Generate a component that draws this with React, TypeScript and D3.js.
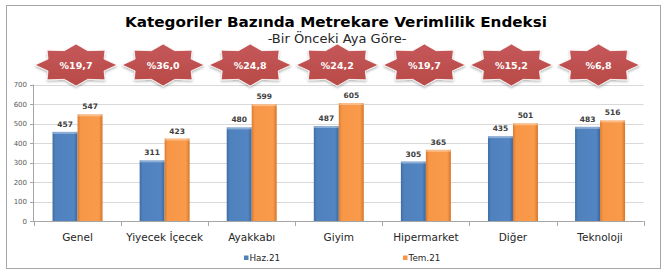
import React from "react";
import * as d3 from "d3";

const categories = ["Genel", "Yiyecek İçecek", "Ayakkabı", "Giyim", "Hipermarket", "Diğer", "Teknoloji"];
const seriesNames = ["Haz.21", "Tem.21"];
const haz21 = [457, 311, 480, 487, 305, 435, 483];
const tem21 = [547, 423, 599, 605, 365, 501, 516];
const changeLabels = ["%19,7", "%36,0", "%24,8", "%24,2", "%19,7", "%15,2", "%6,8"];
const yTicks = [0, 100, 200, 300, 400, 500, 600, 700];
const title = "Kategoriler Bazında Metrekare Verimlilik Endeksi";
const subtitle = "-Bir Önceki Aya Göre-";

const W = 671;
const H = 273;
const FONT = "'DejaVu Sans', Verdana, sans-serif";

function starPath(cx: number, cy: number, rx: number, ry: number, k: number) {
  const pts: [number, number][] = [];
  for (let i = 0; i < 16; i++) {
    const a = (i * Math.PI) / 8;
    const r = i % 2 === 0 ? 1 : k;
    pts.push([cx + rx * r * Math.cos(a), cy - ry * r * Math.sin(a)]);
  }
  return d3.line()(pts) + "Z";
}

export default function App() {
  const left = 34;
  const right = 643.6;
  const top = 84.5;
  const bottom = 221;

  const x = d3.scaleBand<string>().domain(categories).range([left, right]).paddingInner(0).paddingOuter(0);
  const inner = d3.scaleBand<string>().domain(seriesNames).range([0, 50]);
  const y = d3.scaleLinear().domain([0, 700]).range([bottom, top]);
  const colors = ["#4F81BD", "#F79646"];
  const series = [haz21, tem21];

  const barOffset = (x.bandwidth() - 50) / 2;

  return (
    <svg
      width={W}
      height={H}
      style={{ position: "absolute", left: 0, top: 0, background: "#fff" }}
      xmlns="http://www.w3.org/2000/svg"
    >
      <defs>
        <linearGradient id="g0" x1="0" x2="1" y1="0" y2="0">
          <stop offset="0" stopColor="#3E6DA6" />
          <stop offset="0.12" stopColor="#4F81BD" />
          <stop offset="0.85" stopColor="#5285C2" />
          <stop offset="1" stopColor="#3B679C" />
        </linearGradient>
        <linearGradient id="g1" x1="0" x2="1" y1="0" y2="0">
          <stop offset="0" stopColor="#D97B30" />
          <stop offset="0.12" stopColor="#F79646" />
          <stop offset="0.85" stopColor="#F99B4B" />
          <stop offset="1" stopColor="#D4772C" />
        </linearGradient>
        <linearGradient id="star" x1="0" x2="0" y1="0" y2="1">
          <stop offset="0" stopColor="#C5575A" />
          <stop offset="1" stopColor="#B84A47" />
        </linearGradient>
        <filter id="sh" x="-20%" y="-20%" width="140%" height="160%">
          <feDropShadow dx="0" dy="1.5" stdDeviation="1.2" floodColor="#000" floodOpacity="0.3" />
        </filter>
      </defs>
      <rect x={6.5} y={5.5} width={654} height={263} fill="#fff" stroke="#A6A6A6" strokeWidth={1} />

      <text x={336} y={27} textAnchor="middle" fontFamily={FONT} fontWeight="bold" fontSize={14.5} fill="#000"
        textLength={422} lengthAdjust="spacingAndGlyphs">
        {title}
      </text>
      <text x={337} y={43} textAnchor="middle" fontFamily={FONT} fontSize={13} fill="#262626">
        {subtitle}
      </text>

      {/* gridlines */}
      {yTicks.map((t) => (
        <line key={"g" + t} x1={left} x2={right} y1={Math.round(y(t)) + 0.5} y2={Math.round(y(t)) + 0.5}
          stroke={t === 0 ? "#A6A6A6" : "#D9D9D9"} strokeWidth={1} />
      ))}
      {/* y axis */}
      <line x1={left - 0.5} x2={left - 0.5} y1={y(700)} y2={y(0)} stroke="#A6A6A6" />
      {yTicks.map((t) => (
        <g key={"yt" + t}>
          <line x1={left - 4} x2={left} y1={Math.round(y(t)) + 0.5} y2={Math.round(y(t)) + 0.5} stroke="#A6A6A6" />
          <text x={left - 7} y={y(t) + 2.5} textAnchor="end" fontFamily={FONT} fontSize={7} fill="#595959">
            {t}
          </text>
        </g>
      ))}
      {/* x ticks */}
      {d3.range(categories.length + 1).map((i) => {
        const xx = Math.round(left + i * x.step()) + 0.5;
        return <line key={"xt" + i} x1={xx} x2={xx} y1={bottom} y2={bottom + 5} stroke="#A6A6A6" />;
      })}

      {/* stars */}
      {categories.map((c, i) => {
        const cx = (x(c) as number) + x.bandwidth() / 2 - 1.5;
        const cy = 65;
        return (
          <g key={"s" + c}>
            <path d={starPath(cx, cy, 41, 21, 0.74)} fill="url(#star)" stroke="#fff" strokeWidth={0.8} filter="url(#sh)" />
            <text x={cx} y={cy + 3.5} textAnchor="middle" fontFamily={FONT} fontWeight="bold" fontSize={9.5} fill="#fff">
              {changeLabels[i]}
            </text>
          </g>
        );
      })}

      {/* bars */}
      {categories.map((c, i) => (
        <g key={"b" + c}>
          {series.map((s, j) => {
            const bx = (x(c) as number) + barOffset + (inner(seriesNames[j]) as number);
            const bw = inner.bandwidth();
            const by = y(s[i]);
            const bh = y(0) - by;
            return (
              <g key={j}>
                <rect x={bx} y={by} width={bw} height={bh} fill={`url(#g${j})`} />
                <rect x={bx} y={by} width={bw} height={2} fill="#fff" opacity={0.35} />
                <text x={bx + bw / 2} y={by - 5} textAnchor="middle" fontFamily={FONT} fontWeight="bold"
                  fontSize={7.5} fill="#404040">
                  {s[i]}
                </text>
              </g>
            );
          })}
          <text x={(x(c) as number) + x.bandwidth() / 2} y={241} textAnchor="middle" fontFamily={FONT}
            fontSize={10.5} fill="#262626">
            {c}
          </text>
        </g>
      ))}

      {/* legend */}
      {seriesNames.map((n, j) => {
        const lx = j === 0 ? 244 : 403;
        return (
          <g key={"l" + n}>
            <rect x={lx} y={255.5} width={4.5} height={4.5} fill={colors[j]} />
            <text x={lx + 5.5} y={261} fontFamily={FONT} fontSize={8.8} fill="#262626">
              {n}
            </text>
          </g>
        );
      })}
    </svg>
  );
}
